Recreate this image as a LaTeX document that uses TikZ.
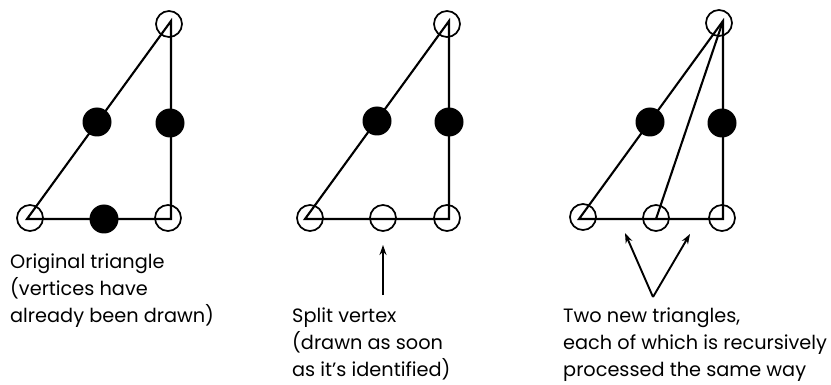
\documentclass[tikz,border=0pt]{standalone}
\usepackage{fontspec}
\setmainfont{Poppins}
\usetikzlibrary{arrows.meta}

\tikzset{
  edge/.style={line width=2.1pt, line join=miter},
  opendot/.style={circle, draw, line width=1.7pt, minimum size=26pt, inner sep=0pt},
  fulldot/.style={circle, fill=black, minimum size=29pt, inner sep=0pt},
  pointer/.style={line width=1.9pt, -{Stealth[length=10pt,width=7pt]}},
  caption/.style={anchor=north west, inner sep=0pt, align=left,
    font=\fontsize{19.3}{26.7}\selectfont}
}

\begin{document}
\begin{tikzpicture}[x=1pt,y=-1pt]
\useasboundingbox (0,0) rectangle (831,385);

% ---- left: the original triangle with its three midpoints ----
\coordinate (A1) at (27,219);
\coordinate (B1) at (171,219);
\coordinate (C1) at (171,21);
\draw[edge] (A1) -- (B1) -- (C1) -- cycle;
\node[opendot] (va1) at (30,218) {};
\node[opendot] (vb1) at (168,218) {};
\node[opendot] (vc1) at (169,24) {};
\node[fulldot] (mac1) at (97,122) {};
\node[fulldot] (mbc1) at (170,123) {};
\node[fulldot] (mab1) at (104,219) {};

% ---- middle: the split vertex has been drawn ----
\begin{scope}[xshift=278pt]
\coordinate (A2) at (27,219);
\coordinate (B2) at (171,219);
\coordinate (C2) at (171,21);
\draw[edge] (A2) -- (B2) -- (C2) -- cycle;
\node[opendot] (va2) at (32,218) {};
\node[opendot] (vb2) at (169,218) {};
\node[opendot] (vc2) at (169,24) {};
\node[fulldot] (mac2) at (99,121) {};
\node[fulldot] (mbc2) at (171,122) {};
\node[opendot] (mab2) at (105,218) {};
\coordinate (s2) at (105,295);
\coordinate (t2) at (105,245);
\end{scope}

% ---- right: the triangle split into two ----
\begin{scope}[xshift=552pt]
\coordinate (A3) at (27,219);
\coordinate (B3) at (171,219);
\coordinate (C3) at (171,21);
\coordinate (M3) at (104,219);
\draw[edge] (A3) -- (B3) -- (C3) -- cycle;
\draw[edge] (C3) -- (M3);
\node[opendot] (va3) at (31,217) {};
\node[opendot] (vb3) at (170,218) {};
\node[opendot] (vc3) at (167,23) {};
\node[fulldot] (mac3) at (98,122) {};
\node[fulldot] (mbc3) at (170,123) {};
\node[opendot] (mab3) at (104,218) {};
\coordinate (s3) at (101,297);
\coordinate (t3a) at (73,233);
\coordinate (t3b) at (138,234);
\end{scope}

% ---- pointers ----
\draw[pointer] (s2) -- (t2);
\draw[pointer] (s3) -- (t3a);
\draw[pointer] (s3) -- (t3b);

% ---- captions ----
\node[caption] (cap1) at (10,254) {Original triangle\\(vertices have\\already been drawn)};
\node[caption] (cap2) at (292,308) {Split vertex\\(drawn as soon\\as it's identified)};
\node[caption] (cap3) at (563,308) {Two new triangles,\\each of which is recursively\\processed the same way};
\end{tikzpicture}
\end{document}
